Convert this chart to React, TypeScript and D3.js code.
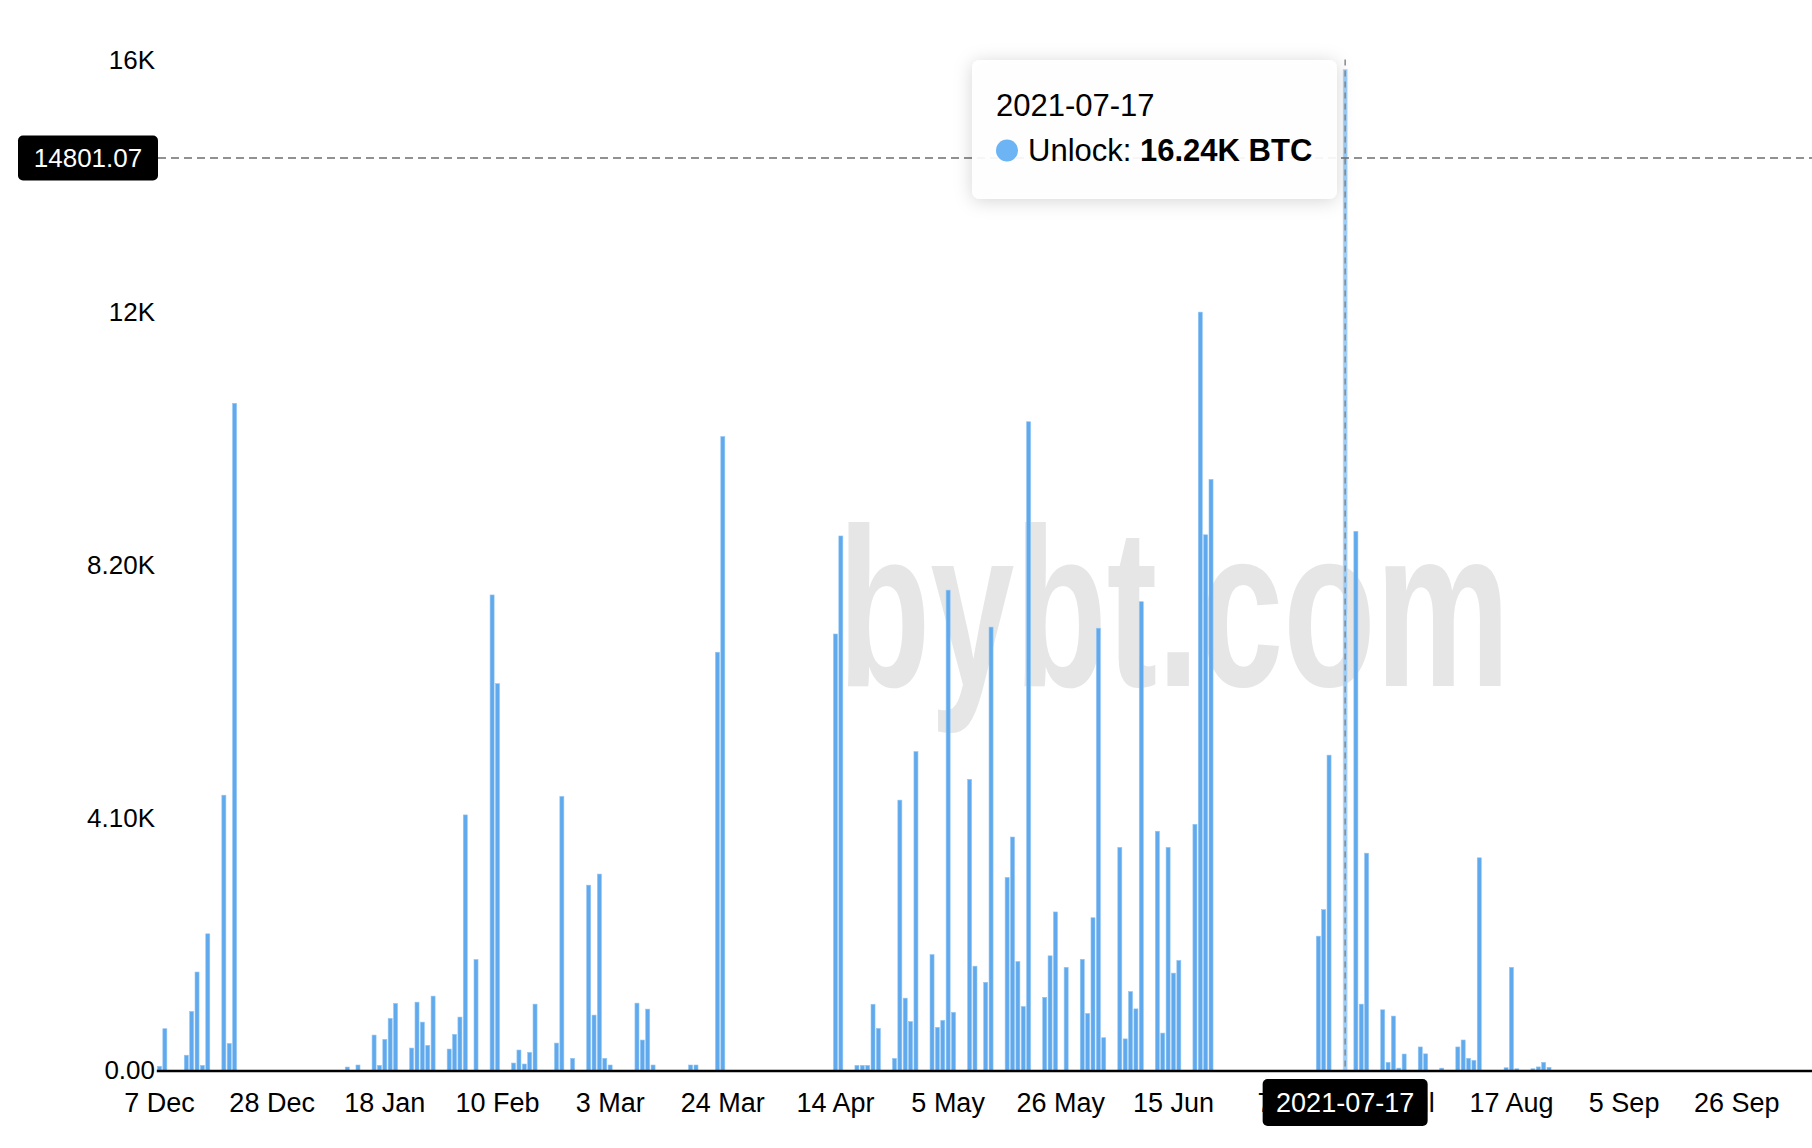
import React, { useEffect, useRef } from 'react';
import * as d3 from 'd3';

// category axis: one slot per day in the feed (labels every 21 slots)
const categoryCount = 309;
const xTickLabels = [
  '7 Dec', '28 Dec', '18 Jan', '10 Feb', '3 Mar', '24 Mar', '14 Apr', '5 May',
  '26 May', '15 Jun', '7 Jul', '28 Jul', '17 Aug', '5 Sep', '26 Sep',
];
const labelEvery = 21;

// unlock amounts (BTC) by category slot
const unlockDay = [
  0, 1, 5, 6, 7, 8, 9, 12, 13, 14,
  35, 37, 40, 41, 42, 43, 44, 47, 48, 49, 50, 51, 54, 55, 56, 57, 59, 62, 63,
  66, 67, 68, 69, 70, 74, 75, 77, 80, 81, 82, 83, 84, 89, 90, 91, 92, 99, 100, 104, 105,
  126, 127, 130, 131, 132, 133, 134, 137, 138, 139, 140, 141, 144, 145, 146, 147, 148,
  151, 152, 154, 155, 158, 159, 160, 161, 162, 165, 166, 167, 169, 172, 173, 174, 175, 176,
  179, 180, 181, 182, 183, 186, 187, 188, 189, 190, 193, 194, 195, 196,
  216, 217, 218, 221, 223, 224, 225, 228, 229, 230, 231, 232, 235, 236, 239,
  242, 243, 244, 245, 246, 251, 252, 253, 256, 257, 258, 259,
];
const unlockBtc = [
  60, 670, 240, 950, 1590, 75, 2210, 4460, 430, 10820,
  48, 81, 567, 76, 497, 837, 1080, 356, 1101, 777, 400, 1199, 340, 578, 859, 4140, 1793, 7710, 6270,
  113, 324, 97, 286, 1069, 437, 4440, 189, 3000, 891, 3180, 189, 81, 1085, 486, 988, 81, 81, 81, 6780, 10280,
  7076, 8667, 75, 75, 75, 1067, 674, 187, 4380, 1166, 786, 5167, 1872, 693, 805, 7788, 936,
  4717, 1685, 1423, 7188, 3126, 3781, 1760, 1030, 10521, 1180, 1853, 2565, 1666, 1797, 917, 2471, 7170, 524,
  3613, 505, 1273, 992, 7600, 3875, 599, 3613, 1572, 1778, 3987, 12300, 8686, 9585,
  2172, 2602, 5110, 16240, 8742, 1069, 3519, 977, 124, 875, 30, 259, 374, 262, 30,
  374, 487, 189, 157, 3444, 37, 1666, 20, 20, 50, 124, 44,
];

const yTickValues = [0, 4100, 8200, 12300, 16400];
const yTickLabels = ['0.00', '4.10K', '8.20K', '12K', '16K'];

// hovered state shown in the screenshot
const hoverDay = 221;
const hoverDate = '2021-07-17';
const cursorValue = 14801.07;

const FONT = '"Liberation Sans", Arial, Helvetica, sans-serif';

const App: React.FC = () => {
  const svgRef = useRef<SVGSVGElement>(null);

  useEffect(() => {
    if (!svgRef.current) return;
    const svg = d3.select(svgRef.current);
    svg.selectAll('*').remove();

    const width = 1812;
    const height = 1148;
    const left = 156.8;
    const step = 5.365;
    const bottom = 1070;
    const top = 59.5;

    svg.attr('width', width).attr('height', height).style('font-family', FONT);

    const defs = svg.append('defs');
    const f = defs.append('filter').attr('id', 'tipShadow')
      .attr('x', '-20%').attr('y', '-30%').attr('width', '140%').attr('height', '160%');
    f.append('feDropShadow').attr('dx', 0).attr('dy', 2).attr('stdDeviation', 9)
      .attr('flood-color', '#000').attr('flood-opacity', 0.18);

    const x = d3.scaleBand<number>()
      .domain(d3.range(categoryCount))
      .range([left, left + categoryCount * step])
      .paddingInner(0.25)
      .paddingOuter(0.125);

    const y = d3.scaleLinear().domain([0, 16400]).range([bottom, top]);

    // watermark
    svg.append('text')
      .attr('x', 838).attr('y', 686)
      .attr('textLength', 672).attr('lengthAdjust', 'spacingAndGlyphs')
      .attr('font-size', 226).attr('font-weight', 'bold')
      .attr('fill', '#e6e6e6')
      .text('bybt.com');

    const data = unlockDay.map((d, i) => ({ day: d, value: unlockBtc[i] }));

    svg.append('g').selectAll('rect').data(data).join('rect')
      .attr('x', (d) => x(d.day)!)
      .attr('width', x.bandwidth())
      .attr('y', (d) => y(d.value))
      .attr('height', (d) => bottom - y(d.value))
      .attr('fill', (d) => (d.day === hoverDay ? '#9ccdf6' : '#5fa9ec'))
      .attr('stroke', (d) => (d.day === hoverDay ? '#b9dcf9' : '#93c6f3'))
      .attr('stroke-width', 0.6);

    // x axis line
    svg.append('line')
      .attr('x1', left).attr('x2', width)
      .attr('y1', bottom + 1).attr('y2', bottom + 1)
      .attr('stroke', '#000').attr('stroke-width', 2.5);

    // x labels
    svg.append('g').selectAll('text').data(xTickLabels).join('text')
      .attr('x', (_, i) => x(i * labelEvery)! + x.bandwidth() / 2)
      .attr('y', 1112)
      .attr('text-anchor', 'middle')
      .attr('font-size', 27)
      .attr('fill', '#000')
      .text((d) => d);

    // y labels
    svg.append('g').selectAll('text').data(yTickValues).join('text')
      .attr('x', 155)
      .attr('y', (d) => y(d))
      .attr('dy', '0.36em')
      .attr('text-anchor', 'end')
      .attr('font-size', 26)
      .attr('fill', '#000')
      .text((_, i) => yTickLabels[i]);

    // cross pointer lines
    const hx = x(hoverDay)! + x.bandwidth() / 2;
    svg.append('line')
      .attr('x1', hx).attr('x2', hx).attr('y1', top).attr('y2', bottom)
      .attr('stroke', '#8a8a8a').attr('stroke-width', 1.5).attr('stroke-dasharray', '6,5');
    const cy = y(cursorValue);
    svg.append('line')
      .attr('x1', 158).attr('x2', width).attr('y1', cy).attr('y2', cy)
      .attr('stroke', '#6e6e6e').attr('stroke-width', 1.6).attr('stroke-dasharray', '8,5');

    // y pointer label
    svg.append('rect').attr('x', 18).attr('y', cy - 22.5).attr('width', 140).attr('height', 45)
      .attr('rx', 5).attr('fill', '#000');
    svg.append('text').attr('x', 88).attr('y', cy).attr('dy', '0.36em')
      .attr('text-anchor', 'middle').attr('font-size', 26).attr('fill', '#fff')
      .text(d3.format('.2f')(cursorValue));

    // x pointer label
    svg.append('rect').attr('x', hx - 82.5).attr('y', 1079).attr('width', 165).attr('height', 47)
      .attr('rx', 5).attr('fill', '#000');
    svg.append('text').attr('x', hx).attr('y', 1112)
      .attr('text-anchor', 'middle').attr('font-size', 27).attr('fill', '#fff')
      .text(hoverDate);

    // tooltip
    const tip = svg.append('g');
    tip.append('rect')
      .attr('x', 972).attr('y', 60).attr('width', 365).attr('height', 139)
      .attr('rx', 8).attr('fill', 'rgba(255,255,255,0.92)')
      .attr('filter', 'url(#tipShadow)');
    tip.append('text').attr('x', 996).attr('y', 116)
      .attr('font-size', 31).attr('fill', '#000').text(hoverDate);
    tip.append('circle').attr('cx', 1007).attr('cy', 150.5).attr('r', 11).attr('fill', '#6db4f5');
    const hoverValue = unlockBtc[unlockDay.indexOf(hoverDay)];
    const row = tip.append('text').attr('x', 1028).attr('y', 161).attr('font-size', 31).attr('fill', '#000');
    row.append('tspan').text('Unlock: ');
    row.append('tspan').attr('font-weight', 'bold')
      .text(`${(hoverValue / 1000).toFixed(2)}K BTC`);
  }, []);

  return (
    <svg
      ref={svgRef}
      style={{ position: 'absolute', left: 0, top: 0, background: '#fff', display: 'block' }}
    />
  );
};

export default App;
